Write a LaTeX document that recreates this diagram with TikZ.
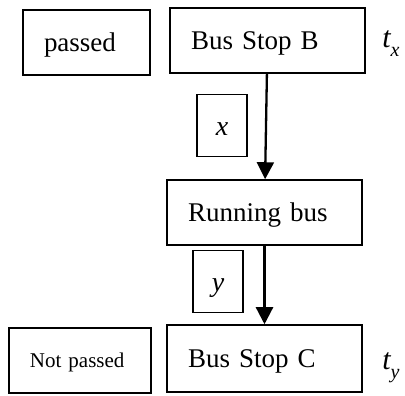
\documentclass[tikz,border=0pt]{standalone}
\usepackage{fontspec}
\setmainfont{Liberation Serif}
\usetikzlibrary{arrows.meta}

\newcommand{\timesub}[1]{t\raisebox{-9pt}{\fontsize{20}{22}\selectfont #1}}

\begin{document}
\begin{tikzpicture}[x=1pt,y=1pt,
		box/.style={draw,line width=1.5pt,inner xsep=21pt,align=left,minimum height=65pt,text height=18pt,text depth=0pt,font=\fontsize{27}{32}\selectfont},
		var/.style={draw,line width=1.5pt,minimum width=50pt,minimum height=62pt,text height=20pt,text depth=0pt,font=\fontsize{28}{32}\selectfont\itshape},
		tim/.style={font=\fontsize{30}{32}\selectfont\itshape},
		flow/.style={line width=2.3pt,-{Triangle[length=17pt,width=17pt]}}]
			\useasboundingbox (0,0) rectangle (405,396);
			% stop B and the bus
			\node[box,text width=85pt] (passed) at (86.5,353.5) {passed};
			\node[box,text width=153pt] (stopB) at (267.5,355.5) {Bus Stop B};
			\node[tim] (tx) at (391,352) {\timesub{x}};
			\node[var] (xbox) at (222,270.5) {x};
			\node[box,text width=153pt] (bus) at (264.5,183.5) {Running bus};
			% stop C
			\node[var] (ybox) at (218,114.5) {y};
			\node[box,text width=100pt,text height=14pt,font=\fontsize{21}{25}\selectfont] (notpassed) at (80,35.5) {Not passed};
			\node[box,text width=153pt,minimum height=67pt] (stopC) at (264.5,37.5) {Bus Stop C};
			\node[tim] (ty) at (391,28) {\timesub{y}};
			\draw[flow] (stopB) -- (bus);
			\draw[flow] (bus) -- (stopC);
		\end{tikzpicture}
\end{document}
